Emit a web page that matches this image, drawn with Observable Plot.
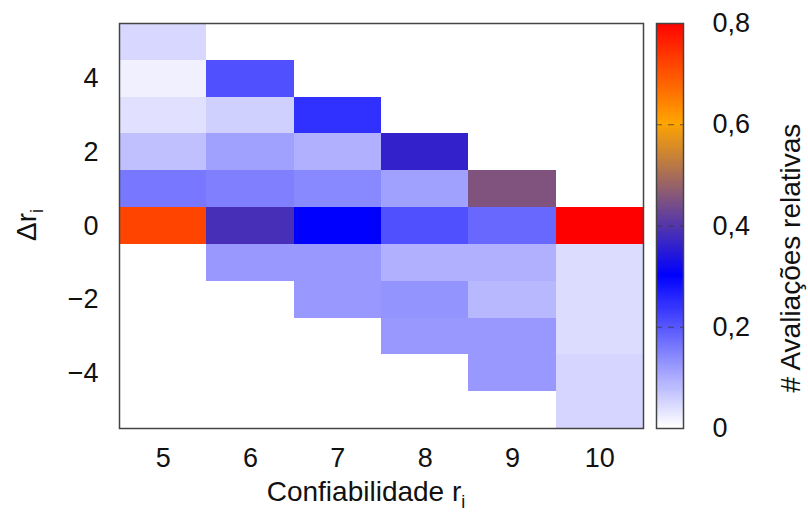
<!DOCTYPE html>
<html>
<head>
<meta charset="utf-8">
<script src="https://cdn.jsdelivr.net/npm/d3@7"></script>
<script src="https://cdn.jsdelivr.net/npm/@observablehq/plot@0.6"></script>
<style>
  body { margin: 0; background: white; }
  #wrap { display: flex; width: 808px; height: 527px; font-family: "Liberation Sans", Arial, sans-serif; }
</style>
</head>
<body>
<div id="wrap"></div>
<script>
// Categories
const xCats = [5, 6, 7, 8, 9, 10];            // Confiabilidade r_i
const yCats = [5, 4, 3, 2, 1, 0, -1, -2, -3, -4, -5]; // Δr_i (top to bottom)

// Relative evaluations per column (aligned with yCats); null = no cell
const col5  = [0.047, 0.018, 0.035, 0.074, 0.160, 0.718, null,  null,  null,  null,  null];
const col6  = [null,  0.206, 0.055, 0.112, 0.149, 0.385, 0.121, null,  null,  null,  null];
const col7  = [null,  null,  0.244, 0.093, 0.140, 0.300, 0.121, 0.121, null,  null,  null];
const col8  = [null,  null,  null,  0.360, 0.112, 0.206, 0.093, 0.126, 0.121, null,  null];
const col9  = [null,  null,  null,  null,  0.450, 0.178, 0.093, 0.084, 0.121, 0.121, null];
const col10 = [null,  null,  null,  null,  null,  0.800, 0.041, 0.041, 0.041, 0.050, 0.050];

const yTickLabels = [4, 2, 0, -2, -4];
const cbTicks = [0, 0.2, 0.4, 0.6, 0.8];
const cbDashed = [0.2, 0.4, 0.6];

const columns = [col5, col6, col7, col8, col9, col10];
const table = [];
columns.forEach((col, i) => col.forEach((v, j) => {
  if (v !== null) table.push({x: xCats[i], y: yCats[j], v});
}));

const colorScale = {
  type: "linear",
  domain: [0, 0.3, 0.6, 0.8],
  range: ["#ffffff", "#0000ff", "#ffa500", "#ff0000"],
  interpolate: "rgb",
  clamp: true
};

const fmtMinus = d => d < 0 ? "\u2212" + Math.abs(d) : String(d);
const FONT = "Liberation Sans, Arial, sans-serif";

const main = Plot.plot({
  width: 650,
  height: 527,
  marginLeft: 119,
  marginRight: 7,
  marginTop: 23,
  marginBottom: 99,
  style: {fontFamily: FONT, fontSize: "27px", color: "#111", background: "white"},
  x: {type: "band", domain: xCats, padding: 0, round: false, label: null, tickSize: 0, tickPadding: 19},
  y: {type: "band", domain: yCats, padding: 0, round: false, label: null, tickSize: 0, tickPadding: 21,
      tickFormat: d => yTickLabels.includes(d) ? fmtMinus(d) : ""},
  color: colorScale,
  marks: [
    Plot.cell(table, {x: "x", y: "y", fill: "v", inset: 0, shapeRendering: "crispEdges"}),
    Plot.frame({stroke: "#444", strokeWidth: 1.5})
  ]
});

const ramp = d3.range(0, 0.8, 0.004);
const cb = Plot.plot({
  width: 158,
  height: 527,
  marginLeft: 6,
  marginRight: 125,
  marginTop: 23,
  marginBottom: 99,
  style: {fontFamily: FONT, fontSize: "27px", color: "#111", background: "white"},
  x: {domain: [0, 1], axis: null},
  y: {domain: [0, 0.8], axis: "right", ticks: cbTicks, tickSize: 0, tickPadding: 29,
      tickFormat: d => String(d).replace(".", ","), label: null},
  color: colorScale,
  marks: [
    Plot.rect(ramp, {x1: 0, x2: 1, y1: d => d, y2: d => Math.min(0.8, d + 0.006), fill: d => d, shapeRendering: "crispEdges"}),
    Plot.ruleY(cbDashed, {stroke: "#333", strokeWidth: 1, strokeDasharray: "6,6", strokeOpacity: 0.7}),
    Plot.frame({stroke: "#444", strokeWidth: 1.5})
  ]
});

const wrap = document.getElementById("wrap");
wrap.appendChild(main);
wrap.appendChild(cb);

// Axis titles with subscripts
const ms = d3.select(main);
const xl = ms.append("text")
  .attr("x", 366).attr("y", 501)
  .attr("text-anchor", "middle")
  .attr("font-family", FONT).attr("font-size", 28).attr("fill", "#111");
xl.append("tspan").text("Confiabilidade r");
xl.append("tspan").attr("font-size", 18).attr("dy", 7).text("i");

const yl = ms.append("text")
  .attr("transform", "translate(36,225) rotate(-90)")
  .attr("text-anchor", "middle")
  .attr("font-family", FONT).attr("font-size", 28).attr("fill", "#111");
yl.append("tspan").text("\u0394r");
yl.append("tspan").attr("font-size", 18).attr("dy", 7).text("i");

d3.select(cb).append("text")
  .attr("transform", "translate(150,258) rotate(-90)")
  .attr("text-anchor", "middle")
  .attr("font-family", FONT).attr("font-size", 28).attr("fill", "#111")
  .text("# Avalia\u00e7\u00f5es relativas");
</script>
</body>
</html>
